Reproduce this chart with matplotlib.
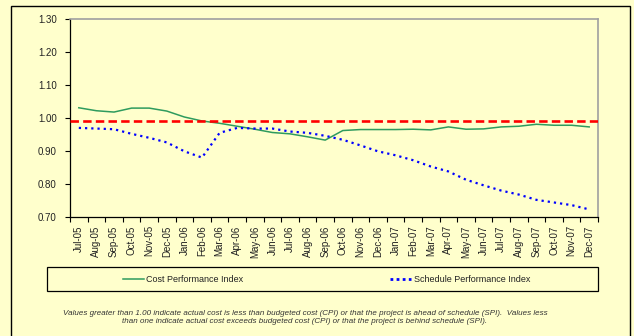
import matplotlib
matplotlib.use('Agg')
import matplotlib.pyplot as plt
from matplotlib.patches import Rectangle
from matplotlib.lines import Line2D

plt.rcParams['font.family'] = ['Liberation Sans', 'DejaVu Sans']

months = ['Jul-05', 'Aug-05', 'Sep-05', 'Oct-05', 'Nov-05', 'Dec-05',
          'Jan-06', 'Feb-06', 'Mar-06', 'Apr-06', 'May-06', 'Jun-06',
          'Jul-06', 'Aug-06', 'Sep-06', 'Oct-06', 'Nov-06', 'Dec-06',
          'Jan-07', 'Feb-07', 'Mar-07', 'Apr-07', 'May-07', 'Jun-07',
          'Jul-07', 'Aug-07', 'Sep-07', 'Oct-07', 'Nov-07', 'Dec-07']

cpi = [1.031, 1.022, 1.018, 1.030, 1.030, 1.021, 1.003, 0.991, 0.984, 0.975,
       0.966, 0.956, 0.952, 0.943, 0.933, 0.962, 0.965, 0.965, 0.965, 0.966,
       0.964, 0.973, 0.966, 0.967, 0.973, 0.975, 0.981, 0.978, 0.978, 0.973]

spi = [0.970, 0.968, 0.966, 0.952, 0.940, 0.926, 0.899, 0.880, 0.955, 0.970,
       0.968, 0.968, 0.959, 0.955, 0.946, 0.934, 0.917, 0.899, 0.887, 0.872,
       0.853, 0.838, 0.813, 0.796, 0.780, 0.768, 0.752, 0.744, 0.736, 0.723]

threshold = 0.99
yticks = [0.70, 0.80, 0.90, 1.00, 1.10, 1.20, 1.30]

W, H = 634, 336
BG = '#FFFFCC'
TXT = '#222222'
GREEN = '#2E9B5E'
BLUE = '#0000FF'


def fx(x):
    return x / W


def fy(y):
    return 1 - y / H


fig = plt.figure(figsize=(W / 100, H / 100), dpi=100)
fig.patch.set_facecolor(BG)

# textured background
plt.rcParams['hatch.color'] = '#FFFFE6'
plt.rcParams['hatch.linewidth'] = 1.0
fig.add_artist(Rectangle((0, 0), 1, 1, transform=fig.transFigure,
                         facecolor='none', edgecolor='none', hatch='xxxx',
                         zorder=-10))

# outer chart frame
fig.add_artist(Rectangle((fx(11), fy(340)), fx(619), (340 - 6) / H,
                         transform=fig.transFigure, facecolor='none',
                         edgecolor='black', lw=1.0, zorder=1))

ax = fig.add_axes([fx(70), fy(217), fx(528), (217 - 19) / H])
ax.set_facecolor('none')

x = list(range(len(months)))
ax.plot(x, cpi, color=GREEN, lw=1.1, zorder=3)
ax.plot(x, spi, color=BLUE, lw=1.6, linestyle=(0, (1.0, 1.8)),
        zorder=3)
ax.axhline(threshold, color='#FF0000', lw=1.9, linestyle=(0, (3.2, 1.6)),
           zorder=4)

ax.set_xlim(-0.5, len(months) - 0.5)
ax.set_ylim(0.70, 1.30)
ax.set_yticks(yticks)
ax.set_yticklabels([f'{v:.2f}' for v in yticks], fontsize=7, color=TXT)
ax.tick_params(axis='y', length=3.5, width=0.8, pad=6, direction='out')

ax.set_xticks([i - 0.5 for i in range(len(months) + 1)])
ax.set_xticklabels([])
ax.tick_params(axis='x', which='major', length=3.5, width=0.8,
               direction='out')
ax.set_xticks(x, minor=True)
ax.set_xticklabels(months, minor=True, rotation=90, fontsize=7, color=TXT)
ax.tick_params(axis='x', which='minor', length=0, pad=6)

for side in ('left', 'bottom'):
    ax.spines[side].set_color('black')
    ax.spines[side].set_linewidth(0.9)
for side in ('top', 'right'):
    ax.spines[side].set_color('#A0A0A0')
    ax.spines[side].set_linewidth(1.2)

# legend box
fig.add_artist(Rectangle((fx(47), fy(291)), fx(551), (291 - 267) / H,
                         transform=fig.transFigure, facecolor='none',
                         edgecolor='black', lw=0.9))
ly = fy(279)
fig.add_artist(Line2D([fx(123), fx(144)], [ly, ly], color=GREEN, lw=1.1,
                      transform=fig.transFigure))
fig.text(fx(146), ly, 'Cost Performance Index', fontsize=6.5, color=TXT,
         va='center', ha='left')
fig.add_artist(Line2D([fx(390), fx(411)], [ly, ly], color=BLUE, lw=2.0,
                      linestyle=(0, (1.0, 1.2)), transform=fig.transFigure))
fig.text(fx(414), ly, 'Schedule Performance Index', fontsize=6.5, color=TXT,
         va='center', ha='left')

note = ('Values greater than 1.00 indicate actual cost is less than budgeted '
        'cost (CPI) or that the project is ahead of schedule (SPI).  Values less\n'
        'than one indicate actual cost exceeds budgeted cost (CPI) or that the '
        'project is behind schedule (SPI).')
fig.text(fx(305), fy(317.5), note, fontsize=5.8, style='italic', color='#333333',
         ha='center', va='center', linespacing=1.1)

fig.savefig('out.png', dpi=100, facecolor=BG)
